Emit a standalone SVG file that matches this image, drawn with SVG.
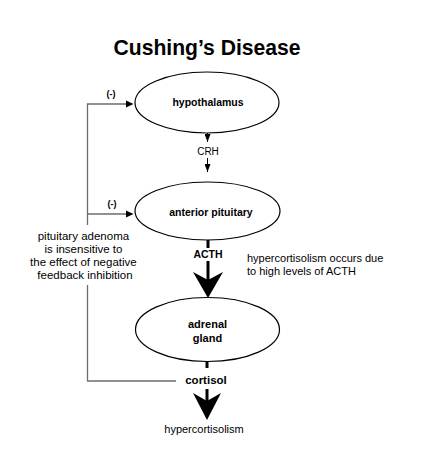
<svg xmlns="http://www.w3.org/2000/svg" width="428" height="449" viewBox="0 0 428 449">
<defs>
<style>
.node ellipse{fill:#fff;stroke:#000;stroke-width:1.2}
.b{font-family:"Liberation Sans",Arial,sans-serif;font-weight:bold;fill:#000;text-anchor:middle}
.r{font-family:"Liberation Sans",Arial,sans-serif;fill:#000}
.fb{fill:none;stroke:#6d6d6d;stroke-width:1.3}
.thin{stroke:#000;stroke-width:1;fill:none}
.thick{stroke:#000;stroke-width:3;fill:none}
</style>
<marker id="ah" viewBox="0 0 8 6" refX="8" refY="3" markerWidth="8" markerHeight="6" markerUnits="userSpaceOnUse" orient="auto">
<path d="M0,0 L8,3 L0,6 Z" fill="#000"/>
</marker>
</defs>
<rect width="428" height="449" fill="#fff"/>
<text class="b" x="207" y="55" font-size="22" textLength="187" lengthAdjust="spacingAndGlyphs">Cushing’s Disease</text>

<g id="connectors">
<path class="fb" d="M87.5,225 V104 H126"/>
<path d="M126,100.5 L133.5,104 L126,107.5 Z" fill="#000"/>
<path class="fb" d="M87.5,214 H126"/>
<path d="M126,210.5 L133.5,214 L126,217.5 Z" fill="#000"/>
<path class="fb" d="M87.5,285 V381 H176"/>
<line class="thin" x1="207.5" y1="120" x2="207.5" y2="142" marker-end="url(#ah)"/>
<line class="thin" x1="207.5" y1="158" x2="207.5" y2="172" marker-end="url(#ah)"/>
<line class="thick" x1="208" y1="230" x2="208" y2="248"/>
<line class="thick" x1="208" y1="261" x2="208" y2="280"/>
<path d="M193,272 L208,280 L223,272 L208,298 Z" fill="#000"/>
<line class="thick" x1="207" y1="352" x2="207" y2="368"/>
<line class="thick" x1="207" y1="389" x2="207" y2="401"/>
<path d="M193,393 L207,401 L221,393 L207,420 Z" fill="#000"/>
</g>

<g id="hypothalamus" class="node">
<ellipse cx="207" cy="102.5" rx="72" ry="30.5"/>
<text class="b" x="208" y="106" font-size="10.5">hypothalamus</text>
</g>
<g id="crh">
<text class="r" x="208" y="155" font-size="10" text-anchor="middle">CRH</text>
</g>
<g id="anterior-pituitary" class="node">
<ellipse cx="207.5" cy="211" rx="72.5" ry="29"/>
<text class="b" x="211" y="216" font-size="10.5">anterior pituitary</text>
</g>
<g id="acth">
<text class="b" x="208" y="258" font-size="10.5">ACTH</text>
</g>
<g id="adrenal-gland" class="node">
<ellipse cx="207.5" cy="329.5" rx="72" ry="32"/>
<text class="b" x="207.5" y="328" font-size="11">adrenal</text>
<text class="b" x="207.5" y="342" font-size="11">gland</text>
</g>
<g id="cortisol">
<text class="b" x="206" y="384" font-size="11.5">cortisol</text>
</g>
<g id="hypercortisolism">
<text class="r" x="204" y="433" font-size="11" text-anchor="middle">hypercortisolism</text>
</g>
<g id="labels">
<text class="b" x="111" y="97" font-size="9">(-)</text>
<text class="b" x="112" y="207" font-size="9">(-)</text>
<text class="r" font-size="11.5" text-anchor="middle">
<tspan x="85" y="240">pituitary adenoma</tspan>
<tspan x="85" y="253">is insensitive to</tspan>
<tspan x="85" y="266">the effect of negative</tspan>
<tspan x="85" y="279">feedback inhibition</tspan>
</text>
<text class="r" font-size="11">
<tspan x="247" y="262">hypercortisolism occurs due</tspan>
<tspan x="247" y="275">to high levels of ACTH</tspan>
</text>
</g>
</svg>
